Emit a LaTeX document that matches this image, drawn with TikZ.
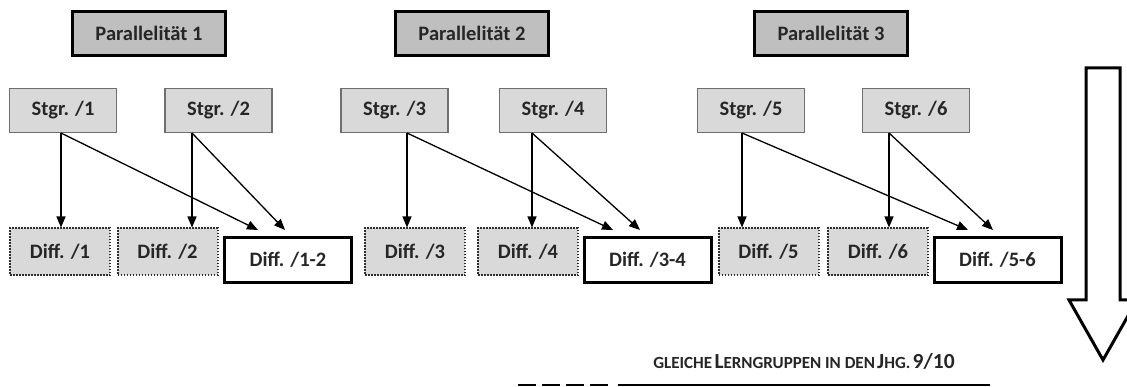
\documentclass[tikz,border=0pt]{standalone}
\usepackage{fontspec}
\setmainfont{Carlito}
\usetikzlibrary{arrows.meta}
\definecolor{pfill}{HTML}{BFBFBF}
\definecolor{sfill}{HTML}{D9D9D9}
\definecolor{sline}{HTML}{6F6F6F}
\definecolor{dline}{HTML}{2E2E2E}
\tikzset{
  base/.style={inner sep=0pt, font=\fontsize{20.5}{22}\selectfont\bfseries, text=black!85},
  parbox/.style={base, draw=black, line width=3pt, fill=pfill, minimum width=153, minimum height=44},
  stgrbox/.style={base, draw=sline, line width=1.3pt, fill=sfill, minimum width=107, minimum height=44},
  diffbox/.style={base, draw=dline, line width=2pt, dash pattern=on 1.8pt off 1.2pt, fill=sfill, minimum width=100, minimum height=47},
  combbox/.style={base, draw=black, line width=3pt, fill=white, minimum width=127, minimum height=45},
  arr/.style={draw=black, line width=1.3pt, -{Triangle[length=11pt,width=9pt]}},
}
\begin{document}
\begin{tikzpicture}[x=1pt,y=-1pt]
\useasboundingbox (0,0) rectangle (1127,387);
% Parallelitaet
\node[parbox] (p1) at (149,33.5) {Parallelität 1};
\node[parbox] (p2) at (472,33.5) {Parallelität 2};
\node[parbox] (p3) at (831,33.5) {Parallelität 3};
% Stgr
\node[stgrbox] (s1) at (63,110.5) {Stgr. /1};
\node[stgrbox] (s2) at (218.5,110.5) {Stgr. /2};
\node[stgrbox] (s3) at (394.5,110.5) {Stgr. /3};
\node[stgrbox] (s4) at (553,110.5) {Stgr. /4};
\node[stgrbox] (s5) at (751,110.5) {Stgr. /5};
\node[stgrbox] (s6) at (916,110.5) {Stgr. /6};
% Diff
\node[diffbox] (d1) at (60,252) {Diff. /1};
\node[diffbox] (d2) at (167.5,252) {Diff. /2};
\node[diffbox] (d3) at (415,252) {Diff. /3};
\node[diffbox] (d4) at (528,252) {Diff. /4};
\node[diffbox] (d5) at (768.5,252) {Diff. /5};
\node[diffbox] (d6) at (878,252) {Diff. /6};
\node[combbox] (c12) at (288,260) {Diff. /1-2};
\node[combbox] (c34) at (647.5,260) {Diff. /3-4};
\node[combbox] (c56) at (997.5,260) {Diff. /5-6};
% start points
\coordinate (o1) at (61,133);
\coordinate (o2) at (192,133);
\coordinate (o3) at (407,133);
\coordinate (o4) at (532,133);
\coordinate (o5) at (742,133);
\coordinate (o6) at (889,133);
% tips at combined boxes
\coordinate (t1) at (258,230);
\coordinate (t2) at (285,230);
\coordinate (t3) at (613,230);
\coordinate (t4) at (640,230);
\coordinate (t5) at (968,230);
\coordinate (t6) at (993,230);
% connectors
\draw[arr] (o1) -- (o1 |- d1.north);
\draw[arr] (o1) -- (t1);
\draw[arr] (o2) -- (o2 |- d2.north);
\draw[arr] (o2) -- (t2);
\draw[arr] (o3) -- (o3 |- d3.north);
\draw[arr] (o3) -- (t3);
\draw[arr] (o4) -- (o4 |- d4.north);
\draw[arr] (o4) -- (t4);
\draw[arr] (o5) -- (o5 |- d5.north);
\draw[arr] (o5) -- (t5);
\draw[arr] (o6) -- (o6 |- d6.north);
\draw[arr] (o6) -- (t6);
% big arrow
\draw[line width=3pt, fill=white, line join=miter]
  (1086,68) -- (1120,68) -- (1120,300) -- (1137,300) -- (1103,360) -- (1069,300) -- (1086,300) -- cycle;
% caption
\node[inner sep=0pt, text=black!85, font=\bfseries] (cap) at (804,361)
 {{\fontsize{17}{18}\selectfont GLEICHE} {\fontsize{21.5}{22}\selectfont L}{\fontsize{17}{18}\selectfont ERNGRUPPEN IN DEN} {\fontsize{21.5}{22}\selectfont J}{\fontsize{17}{18}\selectfont HG.} {\fontsize{21.5}{22}\selectfont 9/10}};
% bottom line
\draw[line width=2.5pt, dash pattern=on 18pt off 6pt] (518,385) -- (610,385);
\draw[line width=2.5pt] (618,385) -- (990,385);
\end{tikzpicture}
\end{document}
